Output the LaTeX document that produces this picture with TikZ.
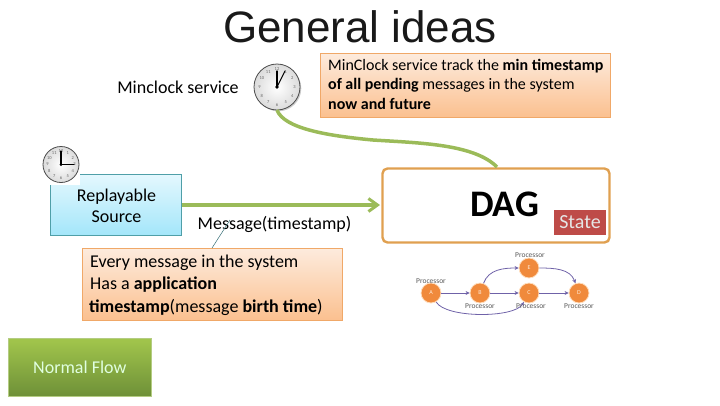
\documentclass[tikz,border=0pt]{standalone}
\usepackage{fontspec}
\setmainfont{Carlito}
\newfontfamily\titlefont{Liberation Sans}
\usetikzlibrary{arrows.meta,calc}
\definecolor{flowgreen}{HTML}{9BBB59}
\definecolor{dagorange}{HTML}{E0A050}
\definecolor{calloutedge}{HTML}{F0A868}
\definecolor{calloutTop}{HTML}{FDEBDD}
\definecolor{calloutBot}{HTML}{FBC08F}
\definecolor{sourceTop}{HTML}{E4F8FE}
\definecolor{sourceBot}{HTML}{A4E6FA}
\definecolor{sourceEdge}{HTML}{4F9FA8}
\definecolor{normalTop}{HTML}{A2C64C}
\definecolor{normalBot}{HTML}{6E9038}
\definecolor{stateRed}{HTML}{BE4B48}
\definecolor{procorange}{HTML}{F08A3C}
\definecolor{procedge}{HTML}{6F62A8}
\tikzset{
  lbl/.style={font=\fontsize{18}{21}\selectfont,text=black,inner sep=0pt},
  toplbl/.style={font=\fontsize{16}{19}\selectfont,text=black,inner sep=0pt,anchor=west},
  callout/.style={draw=calloutedge,line width=0.8pt,top color=calloutTop,bottom color=calloutBot,anchor=north west,inner sep=0pt},
  flow/.style={draw=flowgreen,line width=3.5pt},
  proc/.style={circle,minimum size=20pt,inner sep=0pt,fill=procorange,draw=orange!25!white,line width=0.8pt,text=white!85!orange,font=\fontsize{6}{7}\selectfont},
  proclabel/.style={font=\fontsize{7.5}{8}\selectfont,text=black!65,inner sep=0pt},
  procarrow/.style={draw=procedge,line width=0.8pt,-{Stealth[length=4pt,width=4pt]}},
  clockface/.style={circle,inner sep=0pt,draw=black!70,line width=0.8pt,inner color=white,outer color=black!14},
  clocknum/.style={font=\fontsize{4.5}{5}\selectfont,text=black!60,inner sep=0pt},
  clockhand/.style={draw=black,line width=1.1pt,line cap=round},
}
\newcommand{\clocknums}[3]{%
  \foreach \n in {1,...,12}{%
  \node[clocknum] at ({#1+#3*sin(30*\n)},{#2-#3*cos(30*\n)}) {\n};}}
\begin{document}
\begin{tikzpicture}[x=1pt,y=-1pt]
\useasboundingbox (0,0) rectangle (720,405);

% title
\node[font=\titlefont\fontsize{44}{50}\selectfont,inner sep=0pt,text=black!90] (title) at (360,27) {General ideas};

% clocks
\fill[black!20] (278.3,88.3) circle (23);
\node[clockface,minimum size=46pt] (minclock) at (277,87) {};
\clocknums{277}{87}{17.5}
\draw[clockhand] (277,87) -- (277,71);
\draw[clockhand] (277,87) -- (285,71);
\fill (277,87) circle (1.8);

\node[lbl] (minlabel) at (178,87.5) {Minclock service};

% top callout
\node[callout,minimum width=290pt,minimum height=64pt] (topnote) at (320,53) {};
\node[toplbl] (t1) at (328,66) {MinClock service track the \textbf{min timestamp}};
\node[toplbl] (t2) at (328,85) {\textbf{of all pending} messages in the system};
\node[toplbl] (t3) at (328,104) {\textbf{now and future}};

% source
\node[draw=sourceEdge,line width=0.7pt,top color=sourceTop,bottom color=sourceBot,minimum width=131pt,minimum height=61pt,inner sep=0pt] (source) at (116,204.5) {};
\node[lbl,align=center,font=\fontsize{18}{21}\selectfont] (sourcetext) at (116.5,206) {Replayable\\Source};
\fill[white] (42,172) rectangle (80,185);
\node[clockface,minimum size=36pt] (srcclock) at (61,164.5) {};
\clocknums{61}{164.5}{13.5}
\draw[clockhand] (61,164.5) -- (61,151);
\draw[clockhand] (61,164.5) -- (74,164.5);
\fill (61,164.5) circle (1.5);

% DAG
\node[draw=dagorange,line width=2.4pt,rounded corners=5pt,fill=white,minimum width=227pt,minimum height=74pt,inner sep=0pt] (dag) at (496,205.5) {};
\node[font=\fontsize{37.5}{40}\selectfont\bfseries,inner sep=0pt,text=black] (dagtext) at (504.5,204.5) {DAG};
\node[fill=stateRed,minimum width=52pt,minimum height=25pt,inner sep=0pt,text=white!90!black,font=\fontsize{20}{22}\selectfont] (state) at (580,222.5) {State};

% flows
\coordinate (srcout) at (source.east |- 0,205);
\coordinate (dagin) at (380,205);
\draw[flow,-{Straight Barb[length=9pt,width=13pt,line width=3pt]}] (srcout) -- (dagin);
\coordinate (clockout) at (277,110);
\coordinate (dagtop) at (497,167);
\draw[flow] (clockout) .. controls (284,129) and (330,136) .. (373,140) .. controls (420,143) and (474,144) .. (dagtop);

% message
\node[lbl] (msg) at (274.5,224) {Message(timestamp)};

% bottom callout
\node[callout,minimum width=260pt,minimum height=72pt] (botnote) at (82,248) {};
\node[lbl,anchor=west] (b1) at (90,263) {Every message in the system};
\node[lbl,anchor=west] (b2) at (90,285) {Has a \textbf{application}};
\node[lbl,anchor=west] (b3) at (89,307) {\textbf{timestamp}(message \textbf{birth time})};
\coordinate (msgtick) at (230,220);
\coordinate (notetick) at (212,248);
\draw[draw=sourceEdge!70!black,line width=0.5pt] (notetick) -- (msgtick);

% normal flow
\node[anchor=north west,minimum width=143pt,minimum height=58pt,inner sep=0pt,top color=normalTop,bottom color=normalBot,draw=flowgreen!75!white,line width=0.6pt,text=white!88!green,font=\fontsize{18}{21}\selectfont] (normal) at (8,338) {Normal Flow};

% mini DAG
\node[proc] (A) at (431,293) {A};
\node[proc] (B) at (480,293) {B};
\node[proc] (C) at (529,293) {C};
\node[proc] (D) at (579,293) {D};
\node[proc] (E) at (529,268) {E};
\draw[procarrow] (A) -- (B);
\draw[procarrow] (B) -- (C);
\draw[procarrow] (C) -- (D);
\draw[procarrow] (B) to[out=70,in=180] (E);
\draw[procarrow] (E) to[out=0,in=110] (D);
\draw[procarrow] (A) to[out=-60,in=-120,looseness=0.55] (C);
\node[proclabel] (pa) at (431,281) {Processor};
\node[proclabel] (pe) at (530,255) {Processor};
\node[proclabel] (pb) at (480,306) {Processor};
\node[proclabel] (pc) at (531,306) {Processor};
\node[proclabel] (pd) at (579,306) {Processor};
\end{tikzpicture}
\end{document}
